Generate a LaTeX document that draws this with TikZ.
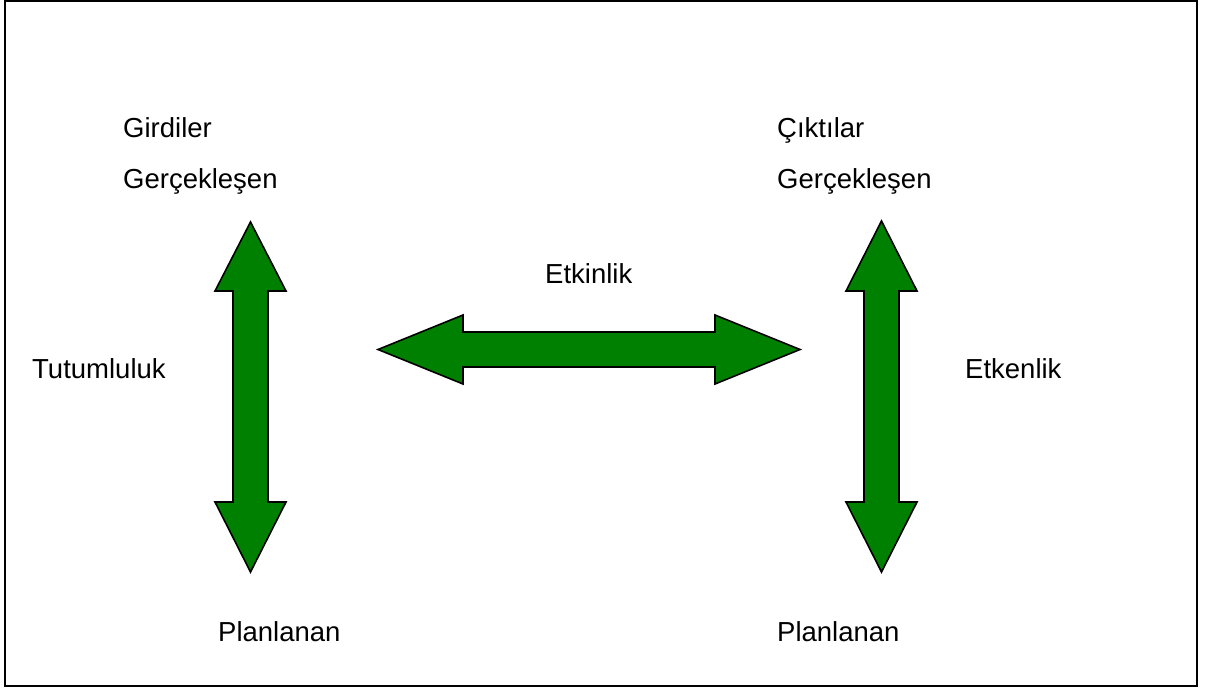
\documentclass[tikz,border=0pt]{standalone}
\usepackage{fontspec}
\setmainfont{Liberation Sans}
\definecolor{arrowgreen}{RGB}{0,128,0}
\begin{document}
\begin{tikzpicture}[x=1pt,y=-1pt,
  bigarrow/.style={fill=arrowgreen, draw=black, line width=1.6pt, line join=miter},
  lbl/.style={anchor=base west, inner sep=0pt, font=\fontsize{27.5}{33}\selectfont}]
\useasboundingbox (0,0) rectangle (1209,688);
% frame
\draw[line width=2pt] (5,1) rectangle (1197,686);

% left vertical double arrow
\draw[bigarrow] (250.5,222) -- (286,291) -- (268,291) -- (268,502) -- (286,502)
  -- (250.5,572) -- (215,502) -- (233,502) -- (233,291) -- (215,291) -- cycle;
% right vertical double arrow
\draw[bigarrow] (881.5,221) -- (917,291) -- (899,291) -- (899,502) -- (917,502)
  -- (881.5,572) -- (846,502) -- (864,502) -- (864,291) -- (846,291) -- cycle;
% horizontal double arrow
\draw[bigarrow] (378,349.5) -- (463,315) -- (463,332) -- (715,332) -- (715,315)
  -- (800,349.5) -- (715,384) -- (715,367) -- (463,367) -- (463,384) -- cycle;

% labels
\node[lbl] (girdi)   at (123,137) {Girdiler};
\node[lbl] (gercL)   at (123,188) {Gerçekleşen};
\node[lbl] (cikti)   at (777,137) {Çıktılar};
\node[lbl] (gercR)   at (777,188) {Gerçekleşen};
\node[lbl] (tutum)   at (32,378) {Tutumluluk};
\node[lbl] (etkin)   at (545,283) {Etkinlik};
\node[lbl] (etken)   at (965,378) {Etkenlik};
\node[lbl] (planL)   at (218,641) {Planlanan};
\node[lbl] (planR)   at (777,641) {Planlanan};
\end{tikzpicture}
\end{document}
